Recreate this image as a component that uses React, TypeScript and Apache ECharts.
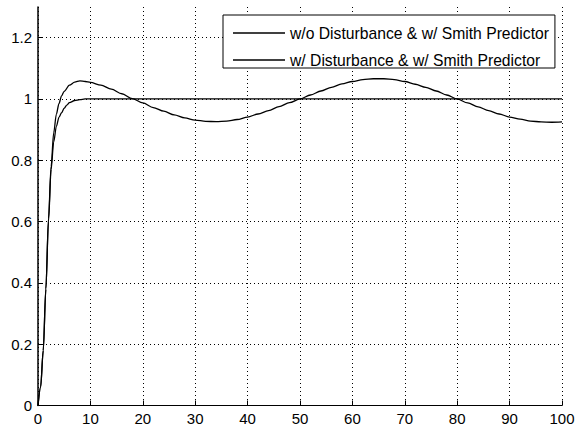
import React, { useEffect, useRef } from "react";
import * as echarts from "echarts";

const seriesNames = [
  "w/o Disturbance & w/ Smith Predictor",
  "w/ Disturbance & w/ Smith Predictor",
];

// w/o disturbance
const t1 = [0, 0.5, 1, 1.5, 2, 2.5, 3, 3.5, 4, 4.5, 5, 5.5, 6, 7, 8, 9, 10, 20, 40, 60, 80, 100];
const y1 = [0, 0.06, 0.18, 0.38, 0.6, 0.77, 0.86, 0.91, 0.94, 0.955, 0.97, 0.98, 0.988, 0.995, 0.998, 1, 1, 1, 1, 1, 1, 1];

// w/ disturbance
const t2 = [0, 0.5, 1, 1.5, 2, 2.5, 3, 3.5, 4, 4.5, 5, 6, 7, 8, 9, 10, 12, 14, 16, 18, 20, 22, 24, 26, 28, 30, 32, 34, 36, 38, 40, 42, 44, 46, 48, 50, 52, 54, 56, 58, 60, 62, 64, 66, 68, 70, 72, 74, 76, 78, 80, 82, 84, 86, 88, 90, 92, 94, 96, 98, 100];
const y2 = [0, 0.06, 0.18, 0.38, 0.61, 0.78, 0.89, 0.95, 0.985, 1.01, 1.025, 1.045, 1.055, 1.059, 1.057, 1.054, 1.045, 1.032, 1.017, 1.001, 0.987, 0.972, 0.96, 0.948, 0.938, 0.931, 0.927, 0.926, 0.928, 0.933, 0.941, 0.951, 0.962, 0.975, 0.988, 1.0, 1.013, 1.026, 1.038, 1.049, 1.057, 1.063, 1.066, 1.066, 1.063, 1.057, 1.048, 1.038, 1.026, 1.013, 1.0, 0.987, 0.974, 0.962, 0.951, 0.941, 0.934, 0.928, 0.925, 0.924, 0.925];

const FONT = "'Liberation Sans', Arial, sans-serif";

export default function App() {
  const ref = useRef<HTMLDivElement>(null);
  useEffect(() => {
    if (!ref.current) return;
    const chart = echarts.init(ref.current, undefined, { renderer: "svg" });
    const d1 = t1.map((t, i) => [t, y1[i]]);
    const d2 = t2.map((t, i) => [t, y2[i]]);
    const dotted = { color: "#000", width: 1, type: [1, 3] as number[] };
    chart.setOption({
      animation: false,
      backgroundColor: "#fff",
      grid: { left: 38, right: 22, top: 7, bottom: 26.5, containLabel: false },
      legend: {
        orient: "vertical",
        left: 223,
        top: 15,
        padding: [10, 6, 0, 10],
        itemGap: 11,
        itemWidth: 52,
        itemHeight: 1.3,
        icon: "rect",
        borderColor: "#000",
        borderWidth: 1,
        backgroundColor: "#fff",
        itemStyle: { color: "#000" },
        textStyle: { fontFamily: FONT, fontSize: 15.7, color: "#000" },
        data: seriesNames,
      },
      xAxis: {
        type: "value",
        min: 0,
        max: 100,
        interval: 10,
        axisLine: { lineStyle: { color: "#000", width: 1.2 } },
        axisTick: { inside: true, length: 5, lineStyle: { color: "#000" } },
        axisLabel: { fontFamily: FONT, fontSize: 15, color: "#000", margin: 5 },
        splitLine: { show: true, lineStyle: dotted },
      },
      yAxis: {
        type: "value",
        min: 0,
        max: 1.3,
        interval: 0.2,
        axisLine: { show: true, lineStyle: { color: "#000", width: 1.5 } },
        axisTick: { show: true, inside: true, length: 5, lineStyle: { color: "#000" } },
        axisLabel: { fontFamily: FONT, fontSize: 15, color: "#000", margin: 6, showMaxLabel: false },
        splitLine: { show: true, showMaxLine: false, lineStyle: dotted },
      },
      series: [
        {
          name: seriesNames[0],
          type: "line",
          data: d1,
          symbol: "none",
          smooth: 0.3,
          smoothMonotone: "x",
          lineStyle: { color: "#000", width: 1.3 },
          itemStyle: { color: "#000" },
        },
        {
          name: seriesNames[1],
          type: "line",
          data: d2,
          symbol: "none",
          smooth: 0.3,
          smoothMonotone: "x",
          lineStyle: { color: "#000", width: 1.3 },
          itemStyle: { color: "#000" },
        },
      ],
    });
    return () => chart.dispose();
  }, []);
  return (
    <div
      ref={ref}
      style={{ position: "absolute", left: 0, top: 0, width: 584, height: 432 }}
    />
  );
}
